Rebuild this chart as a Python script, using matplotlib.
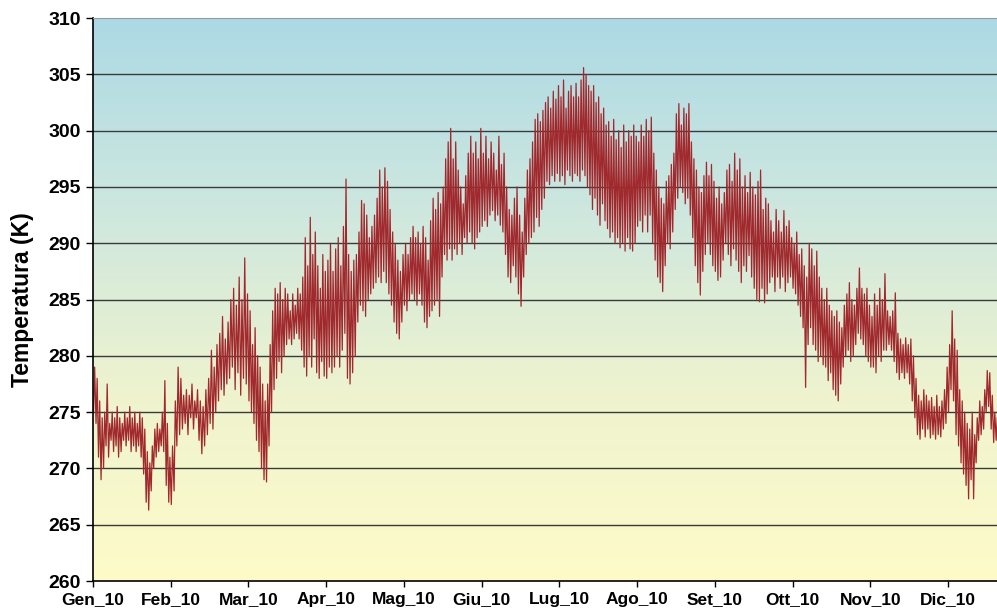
import numpy as np
import matplotlib.pyplot as plt
from matplotlib.colors import LinearSegmentedColormap

plt.rcParams.update({
    "font.family": ["Liberation Sans", "DejaVu Sans"],
    "font.weight": "bold",
})

# ─── dati: massime / minime giornaliere (K) ───
MESI = ["Gen_10", "Feb_10", "Mar_10", "Apr_10", "Mag_10", "Giu_10",
        "Lug_10", "Ago_10", "Set_10", "Ott_10", "Nov_10", "Dic_10"]
GIORNI = [31, 28, 31, 30, 31, 30, 31, 31, 30, 31, 30, 31]

gen_hi = [279, 278, 276, 274.5, 275, 277.5, 274, 275, 274.5, 275.5, 274.5, 274, 275, 274.5, 275.5, 274.5,
          275, 274, 275, 274.5, 273.5, 271.5, 270.5, 272, 273.5, 274, 273.5, 275, 277.8, 274, 271]
gen_lo = [275, 274, 271, 269, 270, 272, 271, 272.5, 271.5, 272, 271, 271.5, 272.5, 272, 272.5, 271.5,
          272, 271.5, 272, 271, 269.5, 267, 266.3, 268, 270, 271, 271.5, 272, 271.5, 268.5, 267]
feb_hi = [272, 276, 279, 278, 276.5, 277, 276.5, 277.5, 276, 277, 276, 275.5, 277, 278, 280.5, 279,
          281, 282, 283.5, 281.5, 283, 285, 286, 284.5, 287, 285, 288.7, 285.5]
feb_lo = [266.8, 268, 272, 273, 273.5, 274, 273, 274.5, 273.5, 274.5, 272.5, 271.3, 272, 273, 274, 273.5,
          275, 276, 277, 276.5, 277.5, 278, 279, 277, 278.5, 276.5, 278, 277.5]
mar_hi = [284, 281, 282.5, 280, 279, 277.5, 276, 277.5, 281, 284, 286, 285.5, 286.5, 285, 286, 285.5,
          284, 285.5, 284.5, 286, 285.5, 287, 290.5, 288, 292.3, 289, 291, 288, 286, 289, 287.5]
mar_lo = [276, 275, 274, 272.5, 271.5, 270, 269, 268.8, 272, 275, 277, 278, 279.5, 278.5, 280, 281,
          281.5, 281, 281.5, 282, 281.5, 280.5, 279, 278.2, 280, 279, 281.5, 278.5, 278, 279.5, 278.2]
apr_hi = [288.5, 290, 287.5, 289.5, 290.5, 288, 291.5, 295.7, 289, 287.5, 288.5, 289, 291, 293.8, 293.5,
          292.5, 290.5, 291.5, 292.5, 294, 296.5, 295, 296.7, 295.5, 293, 291, 290, 288.5, 287.5, 289]
apr_lo = [278, 279, 278.5, 279, 280, 279, 280.5, 282, 278, 277.5, 278.5, 280, 283, 284.5, 284,
          283.5, 285, 285.5, 286, 286.5, 287, 286.5, 287.5, 286.5, 285.5, 284.5, 283, 282, 281.5, 283]
mag_hi = [290, 289, 290.5, 291.5, 290.5, 291, 290, 291.5, 290.5, 288.5, 292, 294, 293, 294.5, 293.5, 295,
          297.5, 299, 300.2, 297.5, 299, 296.5, 295, 293.5, 296, 298, 299.5, 298, 299, 297.5, 300.2]
mag_lo = [284.5, 284, 285, 285.5, 285, 284.5, 285.5, 284.5, 283, 282.5, 283.5, 284, 284.5, 285, 283.5, 287,
          289, 288.5, 289.5, 288.5, 289.5, 289, 290, 289, 290.5, 290, 291, 290, 289.5, 290.5, 291]
giu_hi = [298, 299.5, 297.5, 299, 298, 296.5, 299.5, 297, 298, 295, 293, 292.5, 294, 295, 292.5,
          291, 294, 296.5, 297.5, 299, 301, 301.5, 300.8, 301.8, 302.5, 303, 302, 303.5, 302.8, 304]
giu_lo = [291.5, 292, 291.5, 292.5, 292.9, 292, 292.5, 291.6, 291, 289, 287, 286.5, 288, 287, 285.5,
          284.4, 287, 289, 290, 290.5, 291, 292.3, 291.5, 293, 294, 295.5, 295.2, 296, 295.5, 296.2]
lug_hi = [303, 304.5, 302, 303.5, 304, 303, 304.2, 303, 304.5, 305.6, 305, 304, 303.5, 304, 302.5, 303,
          301.5, 302, 300.5, 300.8, 299.5, 301, 299.2, 300, 298.5, 300.5, 299, 300, 299.5, 300.5, 299.5]
lug_lo = [295.5, 296, 295.2, 296.5, 296, 295.5, 296.2, 296, 295.5, 296.5, 296, 295, 294.3, 293, 294, 292.5,
          291.6, 293.5, 292, 291.3, 290.5, 291, 290, 290.5, 289.6, 290, 289.3, 290.5, 289.5, 289.3, 290]
ago_hi = [299, 300.5, 299.5, 301, 300, 301.2, 298, 296.5, 295, 294, 293.5, 295.5, 296, 297, 298, 301.5,
          302.4, 300.5, 302, 301.5, 302.4, 299, 297.5, 296.5, 295, 294.5, 296, 297.2, 296, 297, 295.5]
ago_lo = [291.5, 292, 291, 292.5, 291, 292.5, 290, 288.5, 287, 286.5, 285.7, 288, 290, 289.5, 291, 293,
          294, 295, 294.5, 293.5, 294, 292.5, 290.5, 288, 286.5, 285.4, 287.5, 289, 290, 289, 288]
set_hi = [294, 295, 293.5, 294.5, 296.5, 297, 295.5, 298, 296.5, 297.5, 295, 296, 294.5, 296.3, 295,
          294.3, 295.5, 296.5, 293, 294, 293.5, 292, 291, 293, 292, 291, 292.9, 291.5, 292, 290.5]
set_lo = [287.5, 286.7, 287, 288.5, 290, 289, 288, 289.5, 288.5, 287.5, 286.5, 288, 287.5, 288.9, 287,
          286, 285, 284.8, 286, 284.7, 285.5, 286.5, 287, 285.7, 287, 286, 287, 285.7, 286.5, 287]
ott_hi = [290, 291, 289, 289.5, 288, 287, 290, 289.5, 288, 289.3, 287, 286, 285, 286, 284.5, 284,
          283.5, 284, 283, 282.5, 284.5, 285.5, 286.5, 285, 284.5, 286, 287.8, 286, 285.5, 286, 284.5]
ott_lo = [286, 285.5, 284.5, 283.5, 282.5, 277.2, 281, 282.5, 281, 280.5, 279.5, 280, 279.2, 279, 277.8, 278.5,
          277, 276.5, 276, 277.5, 279, 280, 280.5, 279.5, 280, 281, 282, 281.5, 281, 280, 279.5]
nov_hi = [283.5, 285.5, 284.5, 286, 285, 287.3, 284, 283.5, 284, 285.6, 282, 281.5, 281, 281.6, 281,
          281.5, 280, 278, 276.5, 276, 277, 276.5, 276, 276.3, 275.5, 276.5, 275.5, 276, 277, 279]
nov_lo = [279, 279, 278.5, 280, 279.5, 280.5, 280.5, 281, 280.5, 279.5, 278.5, 277.9, 278.5, 278, 278.5,
          277.5, 276, 274.5, 273, 272.6, 273.5, 272.8, 273.5, 272.7, 273, 272.6, 273, 272.8, 273.5, 274]
dic_hi = [281, 284, 281.5, 280.5, 277, 276, 275, 274, 273.5, 275, 273, 274.5, 276, 275.5, 277, 278.7,
          278.5, 276.5, 275, 274.5]
dic_lo = [275, 277, 276, 273, 272, 270.5, 269.5, 268.5, 267.3, 269, 267.3, 270.5, 272.5, 273, 273.5, 275,
          275.5, 273.5, 272.3, 272.5]

MASSIME = [gen_hi, feb_hi, mar_hi, apr_hi, mag_hi, giu_hi, lug_hi, ago_hi, set_hi, ott_hi, nov_hi, dic_hi]
MINIME = [gen_lo, feb_lo, mar_lo, apr_lo, mag_lo, giu_lo, lug_lo, ago_lo, set_lo, ott_lo, nov_lo, dic_lo]

# serie a zig-zag: minima al mattino, massima nel pomeriggio
xs, ys = [], []
for m, (hi, lo) in enumerate(zip(MASSIME, MINIME)):
    n = GIORNI[m]
    for d in range(len(hi)):
        xs += [m + (d + 0.2) / n, m + (d + 0.65) / n]
        ys += [lo[d], hi[d]]

fig = plt.figure(figsize=(9.97, 6.11), dpi=100)
ax = fig.add_axes([0.0933, 0.049, 0.9067, 0.9215])

XMAX = 11.63
grad = LinearSegmentedColormap.from_list("sfondo", ["#fefbc8", "#eef3cf", "#cde7df", "#acd9e5"])
ax.imshow(np.linspace(0, 1, 256).reshape(-1, 1), aspect="auto", cmap=grad, origin="lower",
          extent=[0, XMAX, 260, 310], zorder=0)

for v in range(265, 310, 5):
    ax.axhline(v, color="#3a3a3a", lw=1.0, zorder=1)

ax.plot(xs, ys, color="#a0292d", lw=0.9, zorder=2)

ax.set_xlim(0, XMAX)
ax.set_ylim(260, 310)
ax.set_yticks(range(260, 311, 5))
ax.set_xticks(range(12))
ax.set_xticklabels(MESI)
ax.tick_params(axis="y", labelsize=14, direction="out", length=5, width=1, pad=4)
ax.tick_params(axis="x", labelsize=12.5, direction="out", length=4, width=1, pad=4)
ax.set_ylabel("Temperatura (K)", fontsize=16.5, fontweight="bold", labelpad=10)

ax.spines["right"].set_visible(False)
ax.spines["top"].set_color("#999999")
ax.spines["left"].set_linewidth(1.2)
ax.spines["bottom"].set_linewidth(1.2)

fig.savefig("out.png", dpi=100)
